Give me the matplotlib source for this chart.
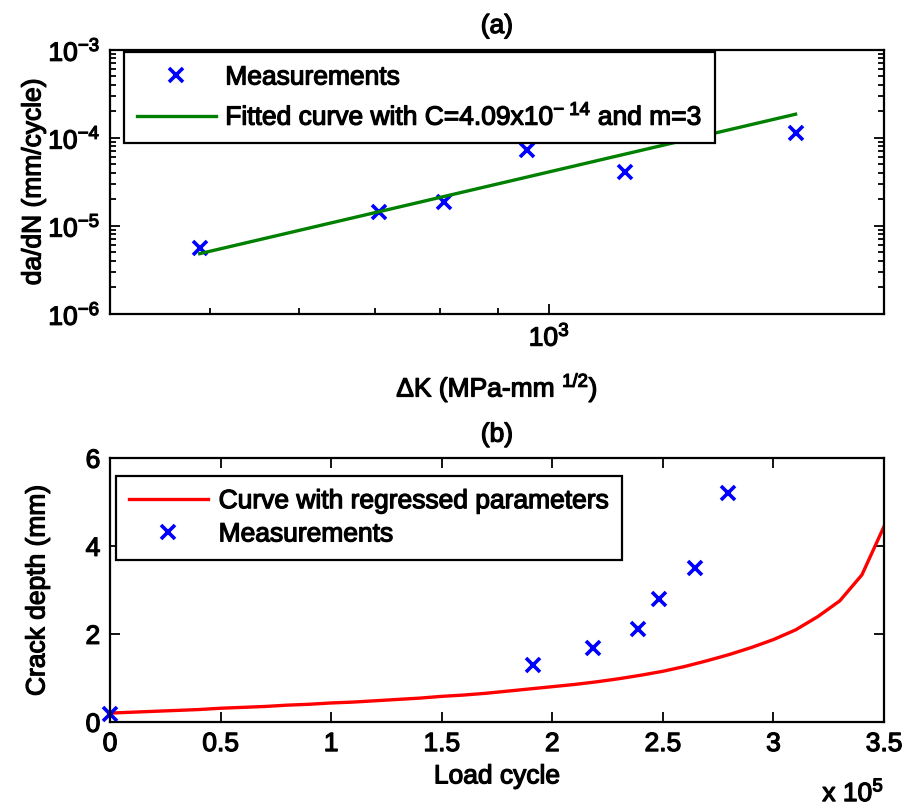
import matplotlib
matplotlib.use("Agg")
import matplotlib.pyplot as plt
import matplotlib.patheffects as pe
from matplotlib.text import Text
from matplotlib.ticker import FixedLocator, FuncFormatter, NullFormatter, LogLocator

plt.rcParams['font.family'] = ['Liberation Sans', 'DejaVu Sans']
plt.rcParams['mathtext.fontset'] = 'custom'
plt.rcParams['mathtext.rm'] = 'Liberation Sans'
plt.rcParams['mathtext.it'] = 'Liberation Sans:italic'
plt.rcParams['mathtext.bf'] = 'Liberation Sans:bold'

# ---- (a) crack growth rate versus stress intensity factor range ----
dK_meas = [490, 706, 806, 956, 1167, 1653]            # MPa-mm^1/2
dadN_meas = [5.53e-6, 1.42e-5, 1.85e-5, 7.19e-5, 4.05e-5, 1.13e-4]  # mm/cycle
paris_C = 4.09e-14
paris_m = 3

# ---- (b) crack depth versus load cycles ----
cycles_meas = [0, 191400, 218300, 238800, 248100, 264700, 279300]
depth_meas = [0.20, 1.30, 1.70, 2.11, 2.81, 3.51, 5.22]

cycles_model = [0, 10000, 20000, 30000, 40000, 50000, 60000, 70000, 80000,
                90000, 100000, 110000, 120000, 130000, 140000, 150000,
                160000, 170000, 180000, 190000, 200000, 210000, 220000,
                230000, 240000, 250000, 260000, 270000, 280000, 290000,
                300000, 310000, 320000, 330000, 340000, 350000]
depth_model = [0.21, 0.23, 0.25, 0.27, 0.29, 0.32, 0.34, 0.36, 0.39,
               0.41, 0.44, 0.46, 0.49, 0.52, 0.55, 0.59,
               0.62, 0.66, 0.71, 0.76, 0.81, 0.86, 0.92,
               0.99, 1.07, 1.16, 1.27, 1.40, 1.54, 1.70,
               1.88, 2.10, 2.40, 2.76, 3.35, 4.45]

FS = 19
BLUE = (0, 0, 1)
GREEN = (0, 0.5, 0)
RED = (1, 0, 0)

fig = plt.figure(figsize=(9.09, 8.05), dpi=100)
ax1 = fig.add_axes([0.121, 0.6103, 0.8515, 0.328])
ax2 = fig.add_axes([0.121, 0.1027, 0.8515, 0.328])

for ax in (ax1, ax2):
    for s in ax.spines.values():
        s.set_linewidth(1.6)
    ax.tick_params(which='both', direction='in', top=True, right=True,
                   labelsize=FS, width=1.3, pad=7)
    ax.tick_params(which='major', length=7)
    ax.tick_params(which='minor', length=4)

# panel (a)
dK_fit = [min(dK_meas), max(dK_meas)]
dadN_fit = [paris_C * k ** paris_m for k in dK_fit]
ax1.plot(dK_meas, dadN_meas, linestyle='none', marker='x', color=BLUE,
         ms=10, mew=2.6, label='Measurements')
ax1.plot(dK_fit, dadN_fit, color=GREEN, lw=2.4,
         label=r'Fitted curve with C=4.09x10$^{\mathrm{-}\ 14}$ and m=3')
ax1.set_xscale('log')
ax1.set_yscale('log')
ax1.set_xlim(408, 1980)
ax1.set_ylim(1e-6, 1e-3)
ax1.xaxis.set_minor_formatter(NullFormatter())
ax1.yaxis.set_major_locator(LogLocator(base=10, numticks=10))
ax1.yaxis.set_minor_locator(LogLocator(base=10, subs=range(2, 10), numticks=20))
ax1.yaxis.set_minor_formatter(NullFormatter())
ax1.set_title('(a)', fontsize=FS, pad=12)
ax1.set_xlabel(r'$\Delta$K (MPa-mm $^{1/2}$)', fontsize=FS, labelpad=15)
ax1.set_ylabel('da/dN (mm/cycle)', fontsize=FS, labelpad=2)
leg1 = ax1.legend(loc='upper left', bbox_to_anchor=(0.0177, 0.99),
                  borderaxespad=0, fontsize=FS, fancybox=False,
                  edgecolor='k', framealpha=1, handlelength=3.0,
                  handletextpad=0.35, borderpad=0.5, labelspacing=0.5)
leg1.get_frame().set_linewidth(1.6)

# panel (b)
ax2.plot(cycles_model, depth_model, color=RED, lw=2.4,
         label='Curve with regressed parameters')
ax2.plot(cycles_meas, depth_meas, linestyle='none', marker='x', color=BLUE,
         ms=10, mew=2.6, label='Measurements', clip_on=False)
ax2.set_xlim(0, 350000)
ax2.set_ylim(0, 6)
ax2.xaxis.set_major_locator(FixedLocator([i * 50000 for i in range(8)]))
ax2.xaxis.set_major_formatter(FuncFormatter(lambda v, p: f'{v / 1e5:g}'))
ax2.yaxis.set_major_locator(FixedLocator([0, 2, 4, 6]))
ax2.set_title('(b)', fontsize=FS, pad=12)
ax2.set_xlabel('Load cycle', fontsize=FS, labelpad=6)
ax2.set_ylabel('Crack depth (mm)', fontsize=FS, labelpad=26)
ax2.text(1.0, -0.215, r'x 10$^{5}$', transform=ax2.transAxes,
         ha='right', va='top', fontsize=FS)
leg2 = ax2.legend(loc='upper left', bbox_to_anchor=(0.0074, 0.933),
                  borderaxespad=0, fontsize=FS, fancybox=False,
                  edgecolor='k', framealpha=1, handlelength=3.0,
                  handletextpad=0.4, borderpad=0.5, labelspacing=0.35)
leg2.get_frame().set_linewidth(1.6)

# slightly heavier glyphs for all text
fig.canvas.draw()
for t in fig.findobj(Text):
    t.set_path_effects([pe.withStroke(linewidth=0.9, foreground='k')])

fig.savefig('out.png', dpi=100)
